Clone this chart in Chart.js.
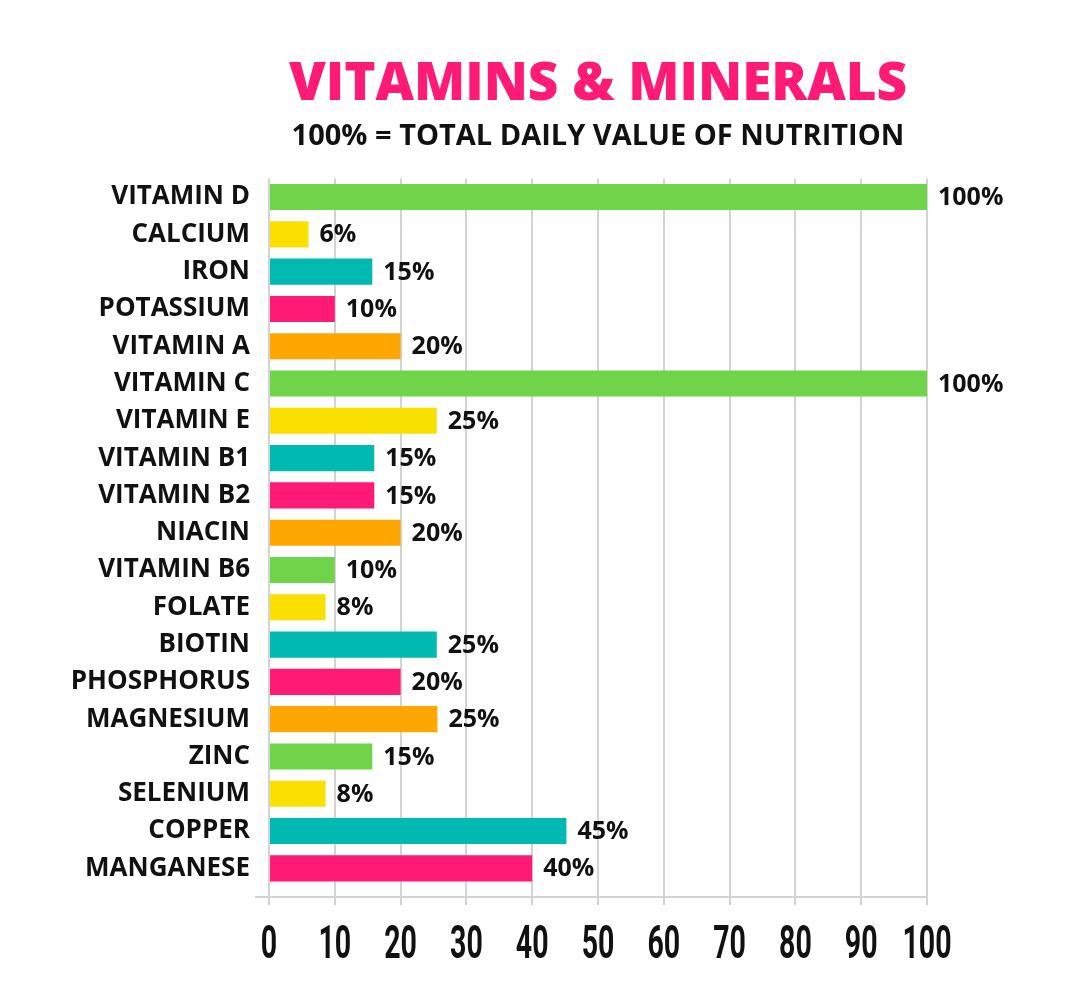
<!DOCTYPE html>
<html>
<head>
<meta charset="utf-8">
<script src="https://cdn.jsdelivr.net/npm/chart.js@4/dist/chart.umd.min.js"></script>
<style>
  html, body { margin: 0; padding: 0; background: #fff; }
  #wrap { width: 1080px; height: 1001px; position: relative; }
</style>
</head>
<body>
<div id="wrap"><canvas id="chart"></canvas></div>
<script>
// nutrients, top to bottom
const nutrients = ['VITAMIN D', 'CALCIUM', 'IRON', 'POTASSIUM', 'VITAMIN A', 'VITAMIN C', 'VITAMIN E',
    'VITAMIN B1', 'VITAMIN B2', 'NIACIN', 'VITAMIN B6', 'FOLATE', 'BIOTIN', 'PHOSPHORUS',
    'MAGNESIUM', 'ZINC', 'SELENIUM', 'COPPER', 'MANGANESE'];
// bar lengths as drawn
const barValues = [100, 6, 15.7, 10, 20, 100, 25.5, 16, 16, 20, 10, 8.6, 25.5, 20, 25.6, 15.7, 8.6, 45.2, 40];
// printed labels
const valueLabels = ['100%', '6%', '15%', '10%', '20%', '100%', '25%', '15%', '15%', '20%', '10%', '8%',
    '25%', '20%', '25%', '15%', '8%', '45%', '40%'];
const xTicks = [0, 10, 20, 30, 40, 50, 60, 70, 80, 90, 100];

const palette = ['#70d44b', '#f9e000', '#00b9b1', '#ff1a76', '#ffa600'];
const barColors = nutrients.map((_, i) => palette[i % palette.length]);

const labelFont = '700 25px "Open Sans", sans-serif';
const tickFont = '700 46px Roboto, sans-serif';

// value text after each bar, axis baseline and the narrow tick numbers
const extras = {
    id: 'extras',
    afterDatasetsDraw(chart) {
        const { ctx, chartArea } = chart;
        const meta = chart.getDatasetMeta(0);
        ctx.save();
        ctx.font = labelFont;
        ctx.fillStyle = '#111';
        ctx.textAlign = 'left';
        ctx.textBaseline = 'middle';
        meta.data.forEach((bar, i) => {
            ctx.fillText(valueLabels[i], bar.x + 11, bar.y + 1);
        });

        // axis line sits a little below the last band
        const axisY = chartArea.bottom + 10;
        ctx.strokeStyle = '#d3d3d3';
        ctx.lineWidth = 2;
        ctx.beginPath();
        ctx.moveTo(chartArea.left - 14, axisY);
        ctx.lineTo(chartArea.right, axisY);
        ctx.stroke();

        // condensed tick numbers
        const xScale = chart.scales.x;
        const squeeze = 0.62;
        ctx.font = tickFont;
        ctx.textAlign = 'center';
        ctx.textBaseline = 'alphabetic';
        xTicks.forEach(v => {
            const px = xScale.getPixelForValue(v);
            ctx.save();
            ctx.translate(px, axisY + 61);
            ctx.scale(squeeze, 1);
            ctx.fillText(String(v), 0, 0);
            ctx.restore();
        });
        ctx.restore();
    }
};

new Chart(document.getElementById('chart'), {
    type: 'bar',
    data: {
        labels: nutrients,
        datasets: [{
            data: barValues,
            backgroundColor: barColors,
            borderWidth: 0,
            barPercentage: 0.7,
            categoryPercentage: 1.0,
        }],
    },
    options: {
        indexAxis: 'y',
        responsive: true,
        maintainAspectRatio: false,
        animation: false,
        layout: { padding: { top: 0, right: 153, bottom: 96, left: 0 } },
        plugins: {
            legend: { display: false },
            tooltip: { enabled: false },
            title: {
                display: true,
                text: 'VITAMINS & MINERALS',
                color: '#ff1a76',
                fullSize: false,
                font: { family: '"Open Sans", sans-serif', size: 53, weight: '800' },
                padding: { top: 53, bottom: 3 },
            },
            subtitle: {
                display: true,
                text: '100% = TOTAL DAILY VALUE OF NUTRITION',
                color: '#111',
                fullSize: false,
                font: { family: '"Open Sans", sans-serif', size: 29, weight: '700' },
                padding: { top: 0, bottom: 24 },
            },
        },
        scales: {
            x: {
                min: 0,
                max: 100,
                afterBuildTicks: scale => { scale.ticks = xTicks.map(v => ({ value: v })); },
                grid: { color: '#d3d3d3', lineWidth: 2, tickLength: 18 },
                border: { display: false },
                ticks: { display: false },
            },
            y: {
                afterFit: scale => { scale.width = 269; },
                grid: { display: false },
                border: { display: false },
                ticks: {
                    color: '#111',
                    padding: 11,
                    autoSkip: false,
                    font: { family: '"Open Sans", sans-serif', size: 26, weight: '700' },
                },
            },
        },
    },
    plugins: [extras],
});
</script>
</body>
</html>
